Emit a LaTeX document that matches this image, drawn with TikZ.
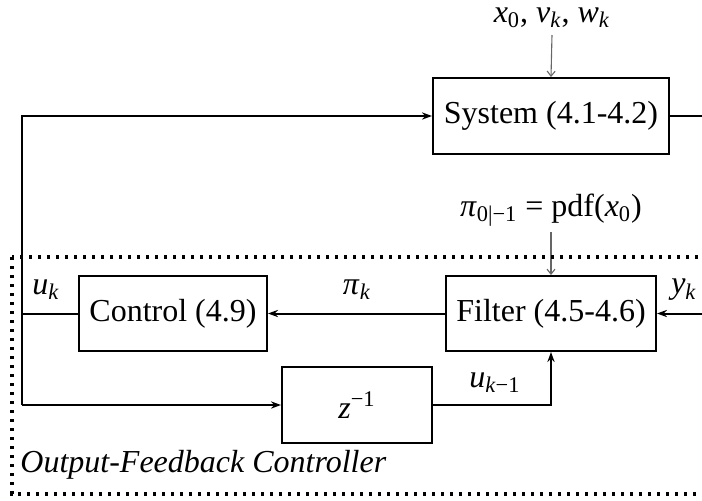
\documentclass[tikz,border=0pt]{standalone}
\usepackage{fontspec}
\setmainfont{Liberation Serif}
\usetikzlibrary{arrows.meta}
% italic variables and sub/superscripts set in the text font
\newcommand\vv[1]{\textit{#1}}
\newcommand\sbs[1]{\textsubscript{#1}}
\newcommand\sps[1]{\textsuperscript{#1}}
\tikzset{
  txt/.style={font=\fontsize{16}{19}\selectfont},
  blk/.style={draw, line width=1pt, inner sep=0pt, txt},
  lbl/.style={inner sep=1pt, txt},
  wire/.style={line width=1pt},
  sig/.style={line width=1pt, -{Stealth[length=5pt,width=3.6pt]}},
  thinsig/.style={line width=0.55pt, draw=black!60, -{Straight Barb[length=2.5pt,width=4pt]}},
  frame/.style={line width=1.6pt, dash pattern=on 1.6pt off 2.9pt}
}
\begin{document}
\begin{tikzpicture}[x=0.5pt, y=-0.5pt]
  \useasboundingbox (0,0) rectangle (702,500);
  \clip (0,0) rectangle (702,500);

  % blocks
  \node[blk, minimum width=118pt, minimum height=38pt] (sys) at (551,116) {System (4.1-4.2)};
  \node[blk, minimum width=105pt, minimum height=37.5pt] (filt) at (551,313.5) {Filter (4.5-4.6)};
  \node[blk, minimum width=94pt, minimum height=37.5pt] (ctrl) at (173,313.5) {Control (4.9)};
  \node[blk, minimum width=75pt, minimum height=38pt] (dly) at (357,405) {\vv{z}\sps{−1}};

  % external inputs
  \node[lbl] (dist) at (552,18) {\vv{x}\sbs{0}, \vv{v}\sbs{\vv{k}}, \vv{w}\sbs{\vv{k}}};
  \node[lbl] (prior) at (551,210) {\vv{π}\sbs{0|−1} = pdf(\vv{x}\sbs{0})};
  \draw[thinsig] (552,35) -- (sys.north);
  \draw[thinsig] (551,232) -- (filt.north);

  % loop wiring
  \coordinate (top) at (22,116);
  \coordinate (mid) at (22,313.5);
  \coordinate (bot) at (22,405);
  \coordinate (out) at (710,116);
  \coordinate (meas) at (710,313.5);

  \draw[sig] (bot) -- (top) -- (sys.west);
  \draw[wire] (sys.east) -- (out);
  \draw[wire] (ctrl.west) -- (mid);
  \draw[sig] (bot) -- (dly.west);
  \draw[sig] (filt.west) -- (ctrl.east);
  \draw[sig] (meas) -- (filt.east);
  \draw[sig] (dly.east) -| (filt.south);

  % signal labels
  \node[lbl] (uk) at (46,290) {\vv{u}\sbs{\vv{k}}};
  \node[lbl] (pik) at (357,290) {\vv{π}\sbs{\vv{k}}};
  \node[lbl] (yk) at (684,290) {\vv{y}\sbs{\vv{k}}};
  \node[lbl] (ukm) at (495,383) {\vv{u}\sbs{\vv{k}−1}};

  % controller frame
  \draw[frame] (12,257) rectangle (730,494);
  \node[inner sep=1pt, anchor=west, font={\fontsize{16}{19}\selectfont\itshape}] (ofc) at (18,465) {Output-Feedback Controller};
\end{tikzpicture}
\end{document}
